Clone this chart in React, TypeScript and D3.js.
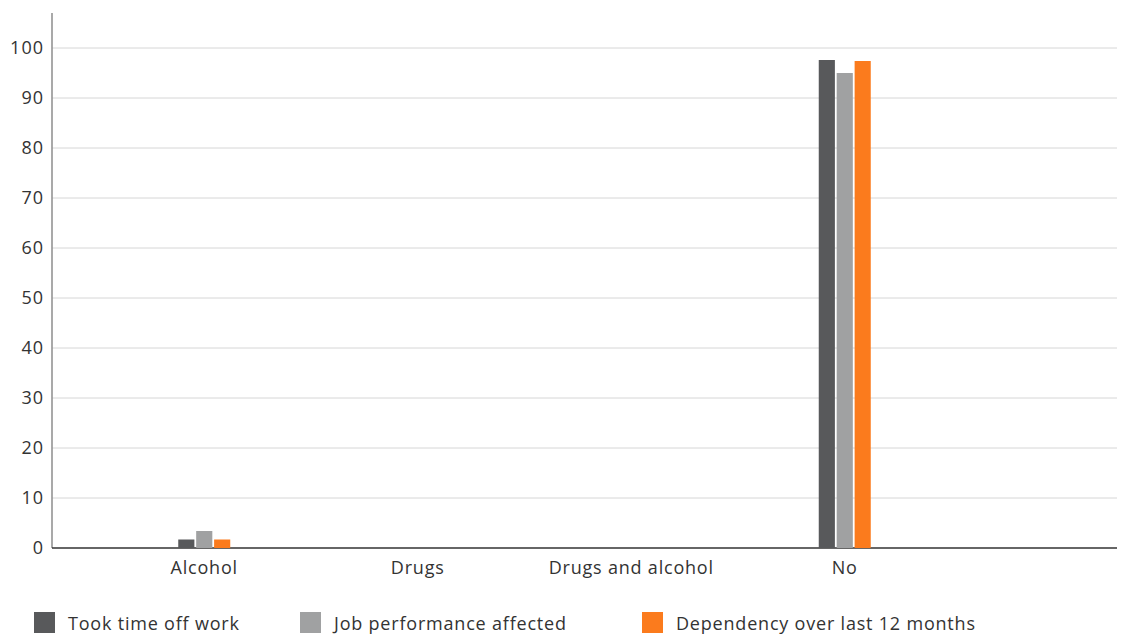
import React from "react";
import * as d3 from "d3";

const categories = ["Alcohol", "Drugs", "Drugs and alcohol", "No"];
const seriesNames = ["Took time off work", "Job performance affected", "Dependency over last 12 months"];
const tookTimeOff = [1.7, 0, 0, 97.6];
const jobPerformance = [3.4, 0, 0, 95.0];
const dependency = [1.7, 0, 0, 97.4];
const yTicks = [0, 10, 20, 30, 40, 50, 60, 70, 80, 90, 100];
const colors = ["#58595b", "#a0a1a2", "#fb7b1d"];

const W = 1137;
const H = 636;
const plotLeft = 52;
const plotRight = 1117;
const font = "'Open Sans', 'Noto Sans', sans-serif";

export default function App() {
  const series = [tookTimeOff, jobPerformance, dependency];
  const y = d3.scaleLinear().domain([0, 100]).range([548, 48]);
  const x = d3.scaleBand<string>().domain(categories).range([97.5, 951.5]).paddingInner(0);
  const sub = d3
    .scaleBand<string>()
    .domain(seriesNames)
    .range([x.bandwidth() / 2 - 26, x.bandwidth() / 2 + 26])
    .paddingInner(0.1);

  const legendX = [34, 300, 642];

  return (
    <svg
      width={W}
      height={H}
      style={{ position: "absolute", left: 0, top: 0, display: "block", background: "#fff" }}
    >
      {yTicks.map((t) => (
        <g key={t}>
          {t > 0 && (
            <line x1={plotLeft} x2={plotRight} y1={y(t)} y2={y(t)} stroke="#d6d6d6" strokeWidth={1} />
          )}
          <text
            x={44}
            y={y(t)}
            dy="0.35em"
            textAnchor="end"
            fontFamily={font}
            fontSize={18}
            letterSpacing={1}
            fill="#333"
          >
            {t}
          </text>
        </g>
      ))}
      <line x1={plotLeft} x2={plotLeft} y1={13} y2={548} stroke="#8c8c8c" strokeWidth={1.5} />
      <line x1={plotLeft} x2={plotRight} y1={548} y2={548} stroke="#333" strokeWidth={1.5} />

      {categories.map((c, i) => (
        <g key={c} transform={`translate(${x(c)},0)`}>
          {series.map((s, j) =>
            s[i] > 0 ? (
              <rect
                key={j}
                x={sub(seriesNames[j])}
                y={y(s[i])}
                width={sub.bandwidth()}
                height={y(0) - y(s[i])}
                fill={colors[j]}
              />
            ) : null
          )}
          <text
            x={x.bandwidth() / 2}
            y={574}
            textAnchor="middle"
            fontFamily={font}
            fontSize={18}
            letterSpacing={0.8}
            fill="#333"
          >
            {c}
          </text>
        </g>
      ))}

      {seriesNames.map((n, j) => (
        <g key={n} transform={`translate(${legendX[j]},612)`}>
          <rect x={0} y={0} width={21} height={21} fill={colors[j]} />
          <text x={34} y={18} fontFamily={font} fontSize={18} letterSpacing={0.8} fill="#333">
            {n}
          </text>
        </g>
      ))}
    </svg>
  );
}
